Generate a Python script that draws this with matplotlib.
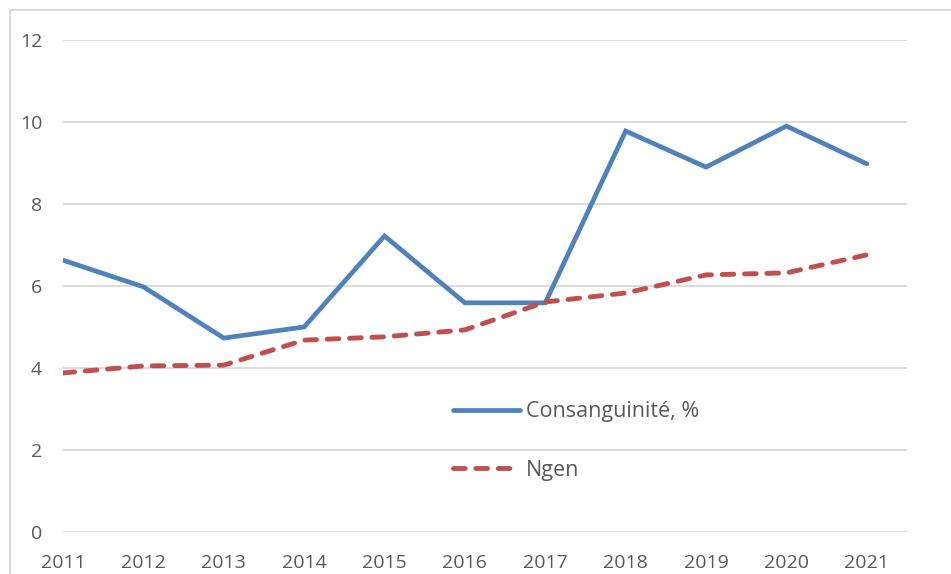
import matplotlib.pyplot as plt
from matplotlib.lines import Line2D

years = [2011, 2012, 2013, 2014, 2015, 2016, 2017, 2018, 2019, 2020, 2021]
consang = [6.63, 5.98, 4.73, 5.0, 7.22, 5.59, 5.59, 9.78, 8.9, 9.9, 8.98]
ngen = [3.88, 4.05, 4.07, 4.68, 4.76, 4.93, 5.61, 5.83, 6.27, 6.32, 6.76]
y_ticks = [0, 2, 4, 6, 8, 10, 12]

W, H = 951, 574
fig = plt.figure(figsize=(W / 100, H / 100), dpi=100)
ax = fig.add_axes([63 / W, 1 - 532 / H, (907 - 63) / W, (532 - 40) / H])

txt = '#595959'
fam = ['Open Sans', 'DejaVu Sans']
plt.rcParams['font.family'] = fam

ax.plot(years, consang, color='#4F81BD', lw=3.4, solid_capstyle='round',
        solid_joinstyle='miter', label='Consanguinité, %', zorder=3)
ax.plot(years, ngen, color='#C0504D', lw=3.5, dashes=(2.4, 2.2),
        dash_capstyle='round', label='Ngen', zorder=3)

ax.set_xlim(2011, 2021.5)
ax.set_ylim(0, 12)
ax.set_yticks(y_ticks)
ax.set_xticks(years)
ax.set_xticklabels([str(y) for y in years], fontsize=14, color=txt, family=fam)
ax.set_yticklabels([str(v) for v in y_ticks], fontsize=14, color=txt, family=fam)
ax.tick_params(axis='both', length=0)
ax.tick_params(axis='x', pad=16)
ax.tick_params(axis='y', pad=15)
ax.grid(axis='y', color='#D9D9D9', lw=1.3)
ax.set_axisbelow(True)
for s in ax.spines.values():
    s.set_visible(False)

leg = ax.legend(loc='center left', bbox_to_anchor=(0.4495, 0.185), frameon=False,
                prop={'family': fam, 'size': 15.5}, handlelength=3.1,
                handletextpad=0.28, labelspacing=1.75, borderpad=0)
for t in leg.get_texts():
    t.set_color(txt)

# chart area border (partially visible)
fig.add_artist(Line2D([10 / W, 1], [1 - 10 / H, 1 - 10 / H], color='#D9D9D9', lw=1.5))
fig.add_artist(Line2D([10 / W, 10 / W], [0, 1 - 10 / H], color='#D9D9D9', lw=1.5))

fig.savefig('out.png', dpi=100)
